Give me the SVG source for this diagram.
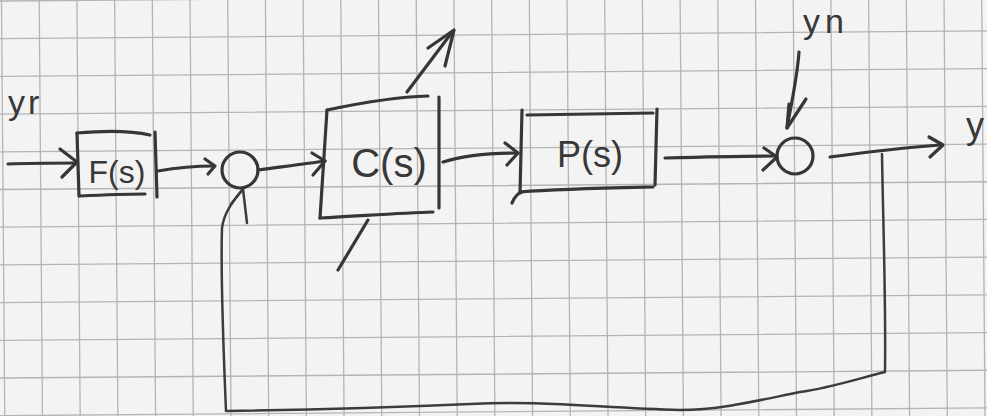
<svg xmlns="http://www.w3.org/2000/svg" width="987" height="416" viewBox="0 0 987 416">
<style>
.grid{fill:none;stroke:#b4b4b4;stroke-width:1.3}
.ink{fill:none;stroke:#363636;stroke-width:3.2;stroke-linecap:round;stroke-linejoin:round}
.thin{fill:none;stroke:#3c3c3c;stroke-width:2.5;stroke-linecap:round;stroke-linejoin:round}
.lbl{font-family:"Liberation Sans","DejaVu Sans",sans-serif;fill:#383838}
</style>
<rect width="987" height="416" fill="#f3f3f3"/>
<g id="paper-grid" transform="rotate(-0.45)">
<path class="grid" d="M1.5 -40 V460 M39.2 -40 V460 M76.9 -40 V460 M114.6 -40 V460 M152.3 -40 V460 M190 -40 V460 M227.7 -40 V460 M265.4 -40 V460 M303.1 -40 V460 M340.8 -40 V460 M378.5 -40 V460 M416.2 -40 V460 M453.9 -40 V460 M491.6 -40 V460 M529.3 -40 V460 M567 -40 V460 M604.7 -40 V460 M642.4 -40 V460 M680.1 -40 V460 M717.8 -40 V460 M755.5 -40 V460 M793.2 -40 V460 M830.9 -40 V460 M868.6 -40 V460 M906.3 -40 V460 M944 -40 V460 M981.7 -40 V460 M1019.4 -40 V460"/>
<path class="grid" d="M-20 1 H1020 M-20 38.7 H1020 M-20 76.4 H1020 M-20 114.1 H1020 M-20 151.8 H1020 M-20 189.5 H1020 M-20 227.2 H1020 M-20 264.9 H1020 M-20 302.6 H1020 M-20 340.3 H1020 M-20 378 H1020 M-20 415.7 H1020 M-20 453.4 H1020"/>
</g>

<g id="connectors">
<path class="ink" d="M8 164 C30 163 55 163 77 163"/>
<path class="ink" d="M60 149 L77 162 L62 177"/>
<path class="ink" d="M158 171 C175 168 195 166 214 166"/>
<path class="ink" d="M205 159 L215 166 L208 174"/>
<path class="ink" d="M258 170 C280 167 305 164 325 161"/>
<path class="ink" d="M312 153 L325 161 L313 175"/>
<path class="ink" d="M443 162 C465 155 495 153 518 153"/>
<path class="ink" d="M505 143 L518 153 L507 165"/>
<path class="ink" d="M665 158 C700 157 740 156 775 156"/>
<path class="ink" d="M764 148 L777 157 L763 170"/>
<path class="ink" d="M799 52 C797 80 790 110 787 128"/>
<path class="ink" d="M789 104 L787 128 L806 99"/>
<path class="ink" d="M830 157 C860 153 900 148 940 145"/>
<path class="ink" d="M929 137 L943 145 L930 157"/>
<path class="thin" d="M882 154 C883 220 886 300 885 372 C860 378 830 388 800 392 C760 400 720 410 680 410 C600 408 540 400 470 404 C380 408 300 410 226 411 C223 340 221 260 222 228 C224 212 234 200 243 189"/>
<path class="thin" d="M231 204 L243 189 L247 223"/>
<path class="ink" d="M338 270 L368 220"/>
<path class="ink" d="M407 92 L453 31"/>
<path class="ink" d="M428 48 L454 30 L445 66"/>
</g>

<g id="label-yr"><text class="lbl" x="8" y="114" font-size="34" letter-spacing="3">yr</text></g>

<g id="node-F">
<path class="ink" d="M77 133 C100 131 128 130 150 135"/>
<path class="ink" d="M77 133 L79 196"/>
<path class="ink" d="M80 196 C100 195 125 194 145 194"/>
<path class="ink" d="M155 132 L157 197"/>
<text class="lbl" x="117" y="183" font-size="32" text-anchor="middle">F(s)</text>
</g>

<g id="node-sum1"><circle class="ink" cx="240" cy="170" r="18"/></g>

<g id="node-C">
<path class="ink" d="M327 110 C360 103 395 97 428 96"/>
<path class="ink" d="M327 110 L320 218"/>
<path class="ink" d="M320 218 C360 216 400 213 433 212"/>
<path class="ink" d="M439 97 L439 208"/>
<text class="lbl" x="389" y="177" font-size="40" text-anchor="middle">C(s)</text>
</g>

<g id="node-P">
<path class="ink" d="M522 110 L520 193"/>
<path class="ink" d="M527 115 L653 113"/>
<path class="ink" d="M657 109 L655 185"/>
<path class="ink" d="M520 192 C560 189 610 188 653 187"/>
<path class="ink" d="M512 203 C515 196 518 193 522 192"/>
<text class="lbl" x="590" y="167" font-size="36" text-anchor="middle">P(s)</text>
</g>

<g id="node-sum2"><circle class="ink" cx="795" cy="156" r="18"/></g>

<g id="label-yn"><text class="lbl" x="803" y="33" font-size="34" letter-spacing="5">yn</text></g>

<g id="label-y"><text class="lbl" x="966" y="138" font-size="36">y</text></g>
</svg>
